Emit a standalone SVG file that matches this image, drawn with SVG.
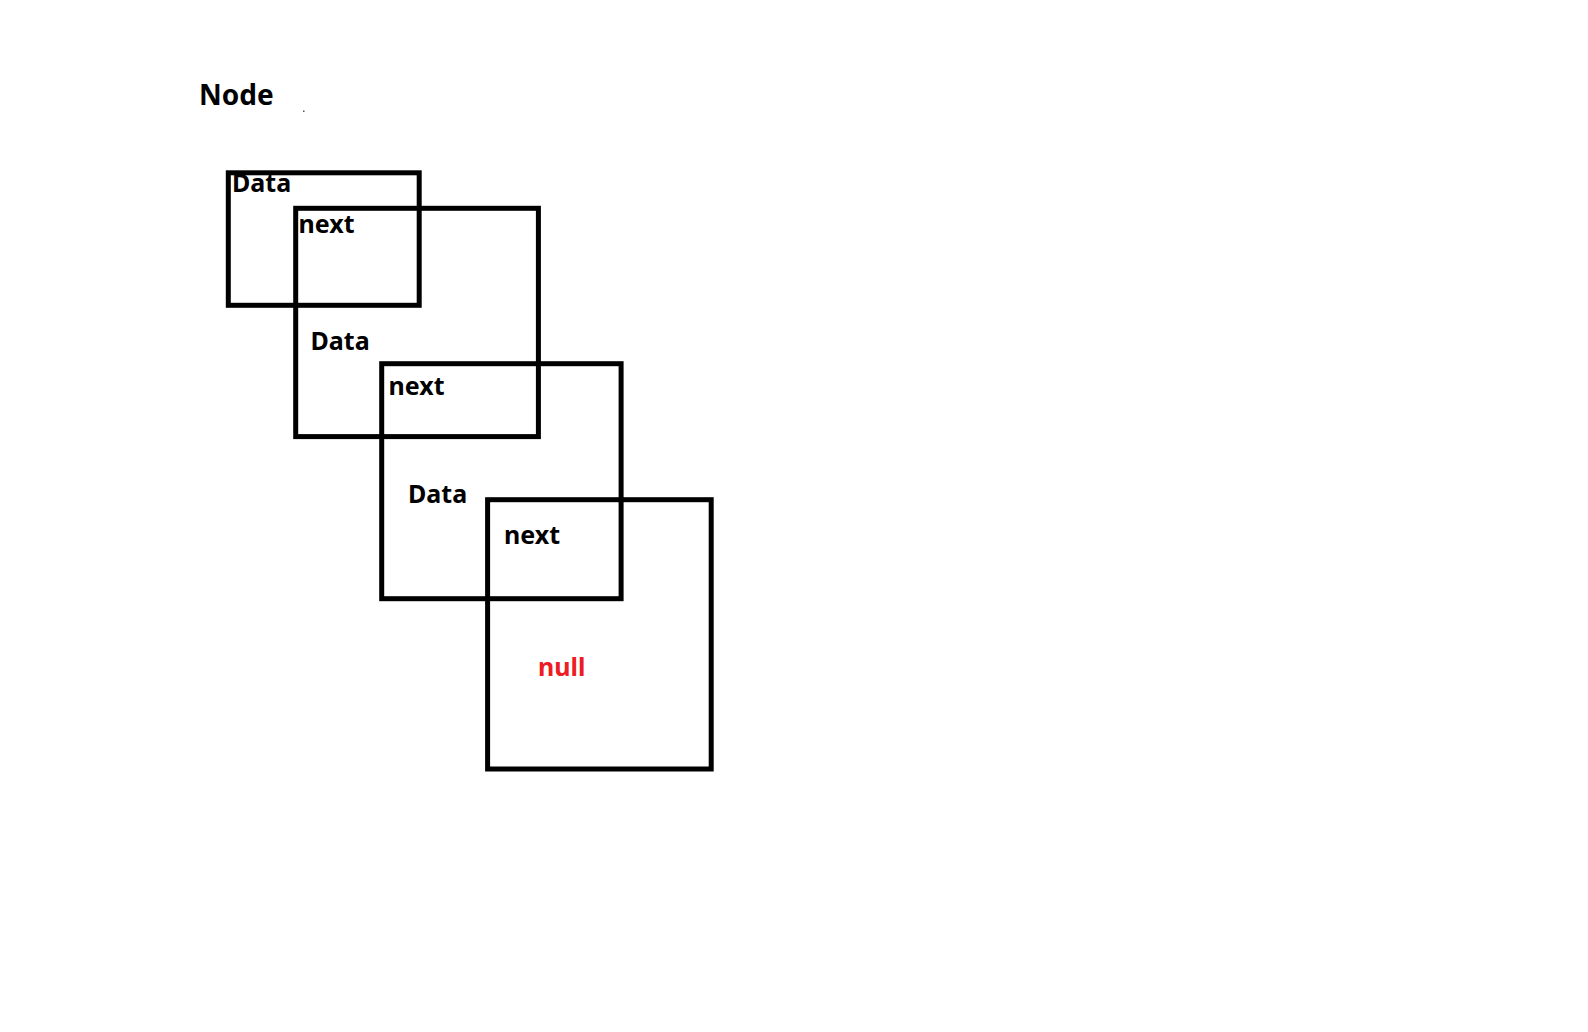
<svg xmlns="http://www.w3.org/2000/svg" width="1588" height="1032" viewBox="0 0 1588 1032">
<style>
.box{fill:none;stroke:#000;stroke-width:5}
.lbl{font-family:"Noto Sans","Open Sans","Liberation Sans",sans-serif;font-weight:bold;font-size:25px;fill:#000}
.null{fill:#ee1c25}
.title{font-family:"Noto Sans","Open Sans","Liberation Sans",sans-serif;font-weight:bold;font-size:28px;fill:#000}
</style>
<rect width="1588" height="1032" fill="#fff"/>
<text class="title" x="199" y="104.5">Node</text>
<rect x="303" y="110.5" width="1.5" height="1.5" fill="#555"/>
<g id="node1">
<rect class="box" x="228.3" y="172.8" width="190.9" height="132.5"/>
<text class="lbl" x="232" y="192">Data</text>
</g>
<g id="node2">
<rect class="box" x="295.7" y="208.3" width="242.7" height="228.3"/>
<text class="lbl" x="298.5" y="232.5">next</text>
<text class="lbl" x="310.5" y="350">Data</text>
</g>
<g id="node3">
<rect class="box" x="381.7" y="363.7" width="239.4" height="235"/>
<text class="lbl" x="388.5" y="395">next</text>
<text class="lbl" x="408" y="503">Data</text>
</g>
<g id="node4">
<rect class="box" x="487.6" y="499.7" width="223.6" height="269.3"/>
<text class="lbl" x="504" y="544.3">next</text>
<text class="lbl null" x="538" y="676">null</text>
</g>
<g id="connectors"></g>
</svg>
